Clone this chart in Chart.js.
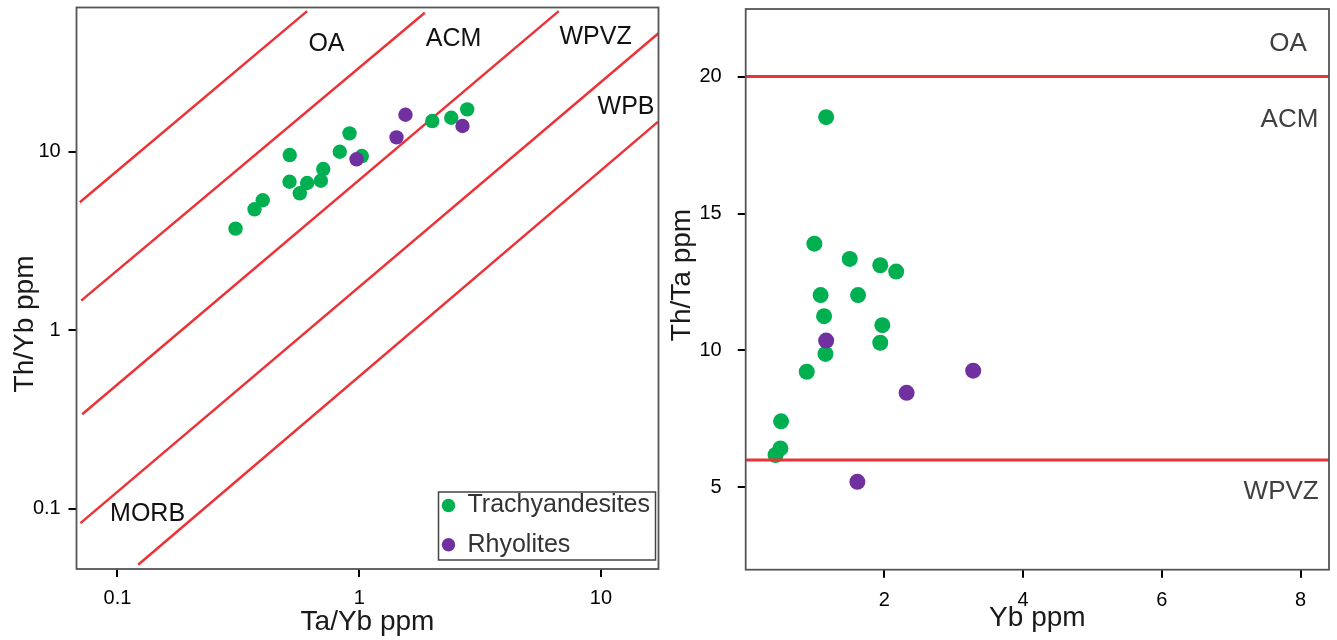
<!DOCTYPE html>
<html>
<head>
<meta charset="utf-8">
<script src="https://cdn.jsdelivr.net/npm/chart.js@4"></script>
<style>
  html, body { margin: 0; padding: 0; background: #fff; }
  #wrap { position: relative; width: 1337px; height: 640px; }
  .panel { position: absolute; top: 0; height: 640px; }
</style>
</head>
<body>
<div id="wrap">
  <div class="panel" style="left:0;width:668px"><canvas id="leftChart" width="668" height="640"></canvas></div>
  <div class="panel" style="left:668px;width:669px"><canvas id="rightChart" width="669" height="640"></canvas></div>
</div>
<script>
// left diagram: Th/Yb vs Ta/Yb, both log
const trachyTaYb = [0.308, 0.369, 0.399, 0.516, 0.515, 0.568, 0.609, 0.694, 0.710, 0.831, 0.912, 1.025, 2.005, 2.403, 2.798];
const trachyThYb = [3.71, 4.76, 5.35, 9.58, 6.79, 5.85, 6.68, 6.88, 8.00, 10.0, 12.67, 9.46, 14.85, 15.50, 17.27];
const rhyoTaYb = [0.975, 1.427, 1.554, 2.675];
const rhyoThYb = [9.07, 12.04, 16.11, 13.93];

// field boundaries (two ends each)
const boundTaYb = [[0.0699, 0.609], [0.0708, 1.868], [0.0715, 6.69], [0.0703, 17.3], [0.1218, 17.2]];
const boundThYb = [[5.21, 61.3], [1.466, 60.0], [0.339, 61.3], [0.0833, 46.1], [0.0487, 14.7]];

const leftFields = ['OA', 'ACM', 'WPVZ', 'WPB', 'MORB'];
const leftFieldTaYb = [0.732, 2.456, 9.50, 12.70, 0.1332];
const leftFieldThYb = [40.2, 42.8, 44.0, 17.67, 0.0939];
const leftTicks = [0.1, 1, 10];

// right diagram: Th/Ta vs Yb
const trachyYb = [1.16, 0.99, 1.50, 1.94, 2.17, 1.08, 1.62, 1.13, 1.97, 1.94, 1.15, 0.88, 0.51, 0.50, 0.43];
const trachyThTa = [18.52, 13.90, 13.34, 13.11, 12.88, 12.02, 12.02, 11.25, 10.92, 10.28, 9.87, 9.22, 7.41, 6.42, 6.18];
const rhyoYb = [1.16, 2.32, 3.28, 1.61];
const rhyoThTa = [10.36, 8.45, 9.26, 5.20];

const thTaLimits = [20, 6];
const rightFields = ['OA', 'ACM', 'WPVZ'];
const rightFieldYb = [7.82, 7.84, 7.72];
const rightFieldThTa = [21.2, 18.42, 4.83];
const ybTicks = [2, 4, 6, 8];
const thTaTicks = [5, 10, 15, 20];

const GREEN = '#00b050';
const PURPLE = '#7030a0';
const RED = '#ec3237';
const FONT = '"Liberation Sans", Arial, sans-serif';

Chart.defaults.font.family = FONT;
Chart.defaults.color = '#000';

const pts = (xs, ys) => xs.map((x, i) => ({ x, y: ys[i] }));

// box around the plot area
const frame = {
  id: 'frame',
  afterDraw(chart) {
    const { ctx, chartArea: a } = chart;
    ctx.save();
    ctx.strokeStyle = '#555';
    ctx.lineWidth = 1.8;
    ctx.strokeRect(a.left, a.top, a.right - a.left, a.bottom - a.top);
    ctx.restore();
  }
};

const fieldLabels = {
  id: 'fieldLabels',
  afterDatasetsDraw(chart, args, o) {
    const { ctx, scales } = chart;
    ctx.save();
    ctx.font = o.font;
    ctx.fillStyle = o.color;
    ctx.textAlign = 'center';
    ctx.textBaseline = 'middle';
    o.names.forEach((n, i) => {
      ctx.fillText(n, scales.x.getPixelForValue(o.xs[i]), scales.y.getPixelForValue(o.ys[i]));
    });
    ctx.restore();
  }
};

const sideTitle = {
  id: 'sideTitle',
  afterDraw(chart, args, o) {
    const ctx = chart.ctx;
    ctx.save();
    ctx.translate(o.x, o.y);
    ctx.rotate(-Math.PI / 2);
    ctx.font = '28px ' + FONT;
    ctx.fillStyle = '#1a1a1a';
    ctx.textAlign = 'center';
    ctx.textBaseline = 'middle';
    ctx.fillText(o.text, 0, 0);
    ctx.restore();
  }
};

const boxLegend = {
  id: 'boxLegend',
  afterDraw(chart, args, o) {
    if (!o.show) return;
    const { ctx, chartArea: a } = chart;
    const w = 217, h = 68;
    const left = a.right - 3 - w, top = a.bottom - 9 - h;
    ctx.save();
    ctx.fillStyle = '#fff';
    ctx.fillRect(left, top, w, h);
    ctx.strokeStyle = '#444';
    ctx.lineWidth = 1.5;
    ctx.strokeRect(left, top, w, h);
    chart.data.datasets.filter(d => d.inLegend).forEach((d, i) => {
      const cy = top + 13.5 + i * 39.3;
      ctx.fillStyle = d.backgroundColor;
      ctx.beginPath();
      ctx.arc(left + 10, cy, 6.7, 0, Math.PI * 2);
      ctx.fill();
      ctx.fillStyle = '#333';
      ctx.font = '25px ' + FONT;
      ctx.textAlign = 'left';
      ctx.textBaseline = 'middle';
      ctx.fillText(d.label, left + 29, cy);
    });
    ctx.restore();
  }
};

const tickGrid = { display: true, drawOnChartArea: false, drawTicks: true, tickLength: 8, color: '#000', lineWidth: 2 };

// fixed axis sizes, and no extra room for overhanging labels
const fixY = w => s => { s.width = w; s.paddingTop = 0; s.paddingBottom = 0; };
const fixX = h => s => { s.height = h; s.paddingLeft = 0; s.paddingRight = 0; };

new Chart(document.getElementById('leftChart'), {
  type: 'scatter',
  data: {
    datasets: [
      { label: 'Trachyandesites', inLegend: true, data: pts(trachyTaYb, trachyThYb), backgroundColor: GREEN, pointRadius: 7.2, borderWidth: 0, order: 2 },
      { label: 'Rhyolites', inLegend: true, data: pts(rhyoTaYb, rhyoThYb), backgroundColor: PURPLE, pointRadius: 7.2, borderWidth: 0, order: 1 },
      ...boundTaYb.map((xs, i) => ({
        data: pts(xs, boundThYb[i]), showLine: true, borderColor: RED, borderWidth: 2.5, pointRadius: 0, order: 3
      }))
    ]
  },
  options: {
    responsive: false,
    animation: false,
    layout: { padding: { top: 7.5, right: 9.5, left: 0, bottom: 0 } },
    scales: {
      x: {
        type: 'logarithmic', min: 0.0677, max: 17.3,
        afterBuildTicks: s => { s.ticks = leftTicks.map(v => ({ value: v })); },
        afterFit: fixX(71),
        ticks: { callback: v => String(v), font: { size: 20 }, padding: 9, maxRotation: 0, autoSkip: false },
        grid: tickGrid,
        border: { display: false },
        title: { display: true, text: 'Ta/Yb ppm', font: { size: 28 }, color: '#1a1a1a', padding: { top: 0, bottom: 1.2 } }
      },
      y: {
        type: 'logarithmic', min: 0.0461, max: 64.2,
        afterBuildTicks: s => { s.ticks = leftTicks.map(v => ({ value: v })); },
        afterFit: fixY(76.5),
        ticks: { callback: v => String(v), font: { size: 20 }, padding: 7.8, autoSkip: false },
        grid: tickGrid,
        border: { display: false }
      }
    },
    plugins: {
      legend: { display: false },
      tooltip: { enabled: false },
      fieldLabels: { names: leftFields, xs: leftFieldTaYb, ys: leftFieldThYb, font: '25px ' + FONT, color: '#111' },
      sideTitle: { text: 'Th/Yb ppm', x: 25, y: 324 },
      boxLegend: { show: true }
    }
  },
  plugins: [frame, fieldLabels, sideTitle, boxLegend]
});

new Chart(document.getElementById('rightChart'), {
  type: 'scatter',
  data: {
    datasets: [
      { label: 'Trachyandesites', data: pts(trachyYb, trachyThTa), backgroundColor: GREEN, pointRadius: 8, borderWidth: 0, order: 2 },
      { label: 'Rhyolites', data: pts(rhyoYb, rhyoThTa), backgroundColor: PURPLE, pointRadius: 8, borderWidth: 0, order: 1 },
      ...thTaLimits.map(v => ({
        data: [{ x: 0, y: v }, { x: 8.41, y: v }], showLine: true, borderColor: RED, borderWidth: 3, pointRadius: 0, order: 0
      }))
    ]
  },
  options: {
    responsive: false,
    animation: false,
    layout: { padding: { top: 9, right: 6, left: 0, bottom: 0 } },
    scales: {
      x: {
        type: 'linear', min: 0, max: 8.41,
        afterBuildTicks: s => { s.ticks = ybTicks.map(v => ({ value: v })); },
        afterFit: fixX(70.3),
        ticks: { font: { size: 20 }, padding: 11, maxRotation: 0, autoSkip: false },
        grid: tickGrid,
        border: { display: false },
        title: { display: true, text: 'Yb ppm', font: { size: 28 }, color: '#1a1a1a', padding: { top: 0, bottom: 4.7 } }
      },
      y: {
        type: 'linear', min: 1.99, max: 22.47,
        afterBuildTicks: s => { s.ticks = thTaTicks.map(v => ({ value: v })); },
        afterFit: fixY(77.7),
        ticks: { font: { size: 20 }, padding: 16, autoSkip: false },
        grid: tickGrid,
        border: { display: false }
      }
    },
    plugins: {
      legend: { display: false },
      tooltip: { enabled: false },
      fieldLabels: { names: rightFields, xs: rightFieldYb, ys: rightFieldThTa, font: '26px ' + FONT, color: '#404040' },
      sideTitle: { text: 'Th/Ta ppm', x: 14, y: 275 },
      boxLegend: { show: false }
    }
  },
  plugins: [frame, fieldLabels, sideTitle, boxLegend]
});
</script>
</body>
</html>
